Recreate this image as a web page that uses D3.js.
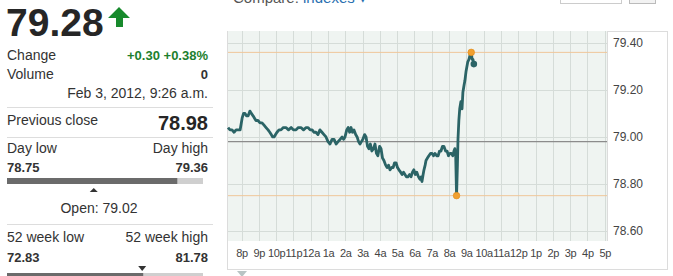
<!DOCTYPE html>
<html><head><meta charset="utf-8">
<script src="https://cdn.jsdelivr.net/npm/d3@7"></script>
<style>
html,body{margin:0;padding:0;background:#fff;}
svg{display:block;font-family:Arial,"Liberation Sans",sans-serif;}
</style></head>
<body>
<svg id="c" width="673" height="276"></svg>
<script>
// minutes after 8:00 p.m. (Feb 2, 2012)
const minutes = [-47,-40,-33,-26,-19,-12,-5,2,7,12,17,23,29,34,40,45,50,57,64,71,78,85,92,98,103,108,113,118,123,130,137,145,154,163,172,180,189,197,206,215,224,231,238,245,251,258,265,272,279,286,293,300,307,314,321,328,335,342,349,354,359,365,370,375,380,385,390,396,401,406,411,416,421,427,432,437,442,447,452,458,463,468,473,479,484,489,494,500,505,510,515,521,526,531,536,541,546,552,557,562,567,572,577,583,588,593,598,603,608,614,619,623,626,630,633,637,640,645,650,656,661,666,671,677,682,687,692,697,702,708,713,718,723,728,733,737,740,743,746,749,751,754,757,761,765,768,772,775,779,785,789,793,797,800,803,806];
const prices = [79.04,79.03,79.03,79.02,79.03,79.03,79.03,79.08,79.10,79.10,79.09,79.09,79.11,79.10,79.09,79.08,79.07,79.07,79.06,79.06,79.05,79.04,79.03,79.02,79.01,79.00,79.00,79.01,79.02,79.03,79.03,79.04,79.04,79.03,79.04,79.03,79.03,79.04,79.04,79.03,79.04,79.04,79.03,79.03,79.02,79.02,79.01,79.03,79.02,79.01,79.00,78.98,78.97,78.99,78.99,78.97,78.98,78.99,79.00,78.99,79.00,79.03,79.04,79.02,79.04,79.02,79.03,79.01,79.00,78.98,78.97,78.98,78.99,79.01,79.00,78.96,78.95,78.97,78.94,78.95,78.97,78.93,78.92,78.96,78.95,78.91,78.90,78.88,78.87,78.88,78.86,78.87,78.87,78.89,78.89,78.87,78.86,78.85,78.84,78.85,78.84,78.83,78.83,78.84,78.83,78.85,78.86,78.84,78.85,78.83,78.82,78.83,78.81,78.84,78.86,78.88,78.90,78.91,78.92,78.93,78.93,78.92,78.93,78.92,78.92,78.94,78.94,78.96,78.96,78.94,78.94,78.92,78.93,78.93,78.92,78.94,78.95,78.92,78.75,78.88,78.99,79.07,79.12,79.15,79.12,79.19,79.22,79.24,79.28,79.32,79.33,79.35,79.36,79.33,79.33,79.31];
const xTickLabels = ["8p","9p","10p","11p","12a","1a","2a","3a","4a","5a","6a","7a","8a","9a","10a","11a","12p","1p","2p","3p","4p","5p"];
const yTicks = [79.40,79.20,79.00,78.80,78.60];
const lastPrice = "79.28", change = "+0.30 +0.38%", volume = "0", stamp = "Feb 3, 2012, 9:26 a.m.";
const prevClose = 78.98, dayLow = 78.75, dayHigh = 79.36, openPrice = 79.02;
const wkLow = 72.83, wkHigh = 81.78;

const svg = d3.select("#c");
const base = new Date(2012,1,2,20,0);
const toDate = m => new Date(base.getTime() + m*60000);
const data = minutes.map((m,i)=>({d:toDate(m), v:prices[i]}));

const PL=228, PR=607, PT=31, PB=241;
const x = d3.scaleTime().domain([toDate(-47), toDate(1268)]).range([PL,PR]);
const y = d3.scaleLinear().domain([78.557,79.451]).range([PB,PT]);

// top compare control (cut off)
svg.append("text").attr("x",233).attr("y",3).attr("font-size",15).attr("fill","#555").text("Compare: ")
  .append("tspan").attr("fill","#2a6fb0").text("indexes ▾");
svg.append("rect").attr("x",560.5).attr("y",-5).attr("width",61).attr("height",8.5).attr("fill","#fff").attr("stroke","#ccc");
svg.append("rect").attr("x",629.5).attr("y",-5).attr("width",26).attr("height",8.5).attr("fill","#f2f2f2").attr("stroke","#bbb");

// frame
svg.append("rect").attr("x",227.5).attr("y",31.5).attr("width",440).attr("height",238).attr("fill","#fff").attr("stroke","#dcdcdc");
svg.append("rect").attr("x",PL).attr("y",PT).attr("width",PR-PL).attr("height",PB-PT).attr("fill","#eff4f1");
svg.append("line").attr("x1",PR+0.5).attr("x2",PR+0.5).attr("y1",PT).attr("y2",PB).attr("stroke","#dcdcdc");

// grid
const hourTicks = xTickLabels.map((_,i)=>toDate(i*60));
svg.append("g").selectAll("line").data(hourTicks).join("line")
  .attr("x1",d=>Math.round(x(d))+0.5).attr("x2",d=>Math.round(x(d))+0.5).attr("y1",PT).attr("y2",PB)
  .attr("stroke","#d5dcd8").attr("stroke-width",1);
svg.append("g").selectAll("line").data(yTicks).join("line")
  .attr("x1",PL).attr("x2",PR).attr("y1",d=>Math.round(y(d))+0.5).attr("y2",d=>Math.round(y(d))+0.5)
  .attr("stroke","#d5dcd8");

// axes
const xAxis = d3.axisBottom(x).tickValues(hourTicks).tickSize(0).tickFormat((d,i)=>xTickLabels[i]);
const gx = svg.append("g").attr("transform",`translate(0,${PB})`).call(xAxis);
gx.select(".domain").remove();
gx.selectAll("text").attr("font-size",11).attr("letter-spacing","-0.3").attr("fill","#444").attr("dy","1.05em").attr("y",4).style("font-family","Arial,'Liberation Sans',sans-serif");
const yAxis = d3.axisRight(y).tickValues(yTicks).tickSize(0).tickFormat(d3.format(".2f"));
const gy = svg.append("g").attr("transform",`translate(${PR+3},0)`).call(yAxis);
gy.select(".domain").remove();
gy.selectAll("text").attr("font-size",12).attr("fill","#444").style("font-family","Arial,'Liberation Sans',sans-serif");

// reference lines
svg.append("line").attr("x1",PL).attr("x2",PR).attr("y1",y(prevClose)).attr("y2",y(prevClose)).attr("stroke","#8c8c8c").attr("stroke-width",1.2);
[dayHigh,dayLow].forEach(v=>svg.append("line").attr("x1",PL).attr("x2",PR).attr("y1",y(v)).attr("y2",y(v)).attr("stroke","#efc79a").attr("stroke-width",1));

// price line
svg.append("path").datum(data).attr("fill","none").attr("stroke","#2b6466").attr("stroke-width",2.8).attr("stroke-linejoin","round")
  .attr("d",d3.line().x(d=>x(d.d)).y(d=>y(d.v)));
const hi = data.find(d=>d.v===dayHigh), lo = data.find(d=>d.v===dayLow), last = data[data.length-1];
[hi,lo].forEach(p=>svg.append("circle").attr("cx",x(p.d)).attr("cy",y(p.v)).attr("r",3.3).attr("fill","#f0a030").attr("stroke","#e08a1a").attr("stroke-width",0.6));
svg.append("circle").attr("cx",x(last.d)).attr("cy",y(last.v)).attr("r",3.3).attr("fill","#2b6466");

// small marker under axis
svg.append("path").attr("d","M237,271 L247,271 L242,277 Z").attr("fill","#b8c4c4");

// ---- left panel ----
const L=7, R=208;
const txt=(xx,yy,s,o={})=>svg.append("text").attr("x",xx).attr("y",yy).attr("font-size",o.size||14)
  .attr("font-weight",o.bold?"bold":"normal").attr("fill",o.fill||"#333").attr("text-anchor",o.anchor||"start").text(s);
txt(6,36,lastPrice,{size:39,bold:true,fill:"#262626"});
svg.append("path").attr("d","M119,7 L130,18 L123,18 L123,27 L116,27 L116,18 L108,18 Z").attr("fill","#178a2c");
txt(L,60,"Change");
txt(R,60,change,{size:13,bold:true,fill:"#1d7f2e",anchor:"end"});
txt(L,79,"Volume");
txt(R,79,volume,{size:13,bold:true,anchor:"end"});
txt(R,98,stamp,{anchor:"end"});
svg.append("line").attr("x1",L).attr("x2",213).attr("y1",107.5).attr("y2",107.5).attr("stroke","#ddd");
txt(L,125,"Previous close");
txt(R,130,d3.format(".2f")(prevClose),{size:20,bold:true,anchor:"end",fill:"#262626"});
svg.append("line").attr("x1",L).attr("x2",213).attr("y1",137.5).attr("y2",137.5).attr("stroke","#ddd");
txt(L,153,"Day low");
txt(R,153,"Day high",{anchor:"end"});
txt(L,172,d3.format(".2f")(dayLow),{size:13,bold:true});
txt(R,172,d3.format(".2f")(dayHigh),{size:13,bold:true,anchor:"end"});
const bx = d3.scaleLinear().domain([dayLow,dayHigh]).range([L,203]);
svg.append("rect").attr("x",L).attr("y",178).attr("width",203-L).attr("height",6).attr("fill","#cfcfcf");
svg.append("rect").attr("x",L).attr("y",178).attr("width",bx(79.28)-L).attr("height",6).attr("fill","#6b6b6b");
const ox = bx(openPrice);
svg.append("path").attr("d",`M${ox-4},192 L${ox+4},192 L${ox},188 Z`).attr("fill","#333");
txt(99,213,"Open: "+d3.format(".2f")(openPrice),{anchor:"middle"});
svg.append("line").attr("x1",L).attr("x2",213).attr("y1",224.5).attr("y2",224.5).attr("stroke","#ddd");
txt(L,242,"52 week low");
txt(R,242,"52 week high",{anchor:"end"});
txt(L,262,d3.format(".2f")(wkLow),{size:13,bold:true});
txt(R,262,d3.format(".2f")(wkHigh),{size:13,bold:true,anchor:"end"});
const wx = d3.scaleLinear().domain([wkLow,wkHigh]).range([L,196]);
svg.append("rect").attr("x",L).attr("y",273).attr("width",203-L).attr("height",6).attr("fill","#cfcfcf");
svg.append("rect").attr("x",L).attr("y",273).attr("width",wx(79.28)-L).attr("height",6).attr("fill","#6b6b6b");
const wxx = wx(79.28)-1;
svg.append("path").attr("d",`M${wxx-4},266 L${wxx+4},266 L${wxx},271 Z`).attr("fill","#333");
</script>
</body></html>
